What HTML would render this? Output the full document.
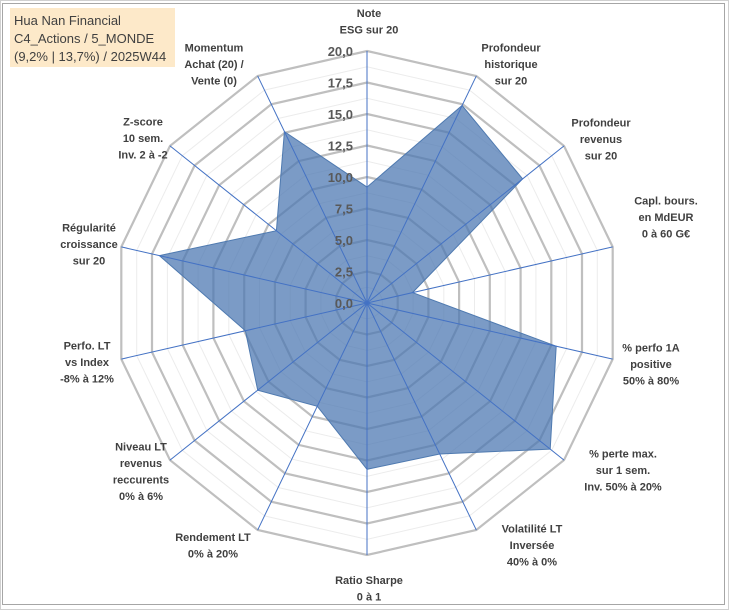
<!DOCTYPE html>
<html><head><meta charset="utf-8"><style>
html,body{margin:0;padding:0;background:#fff;}
svg{display:block;}
.lab{font-family:"Liberation Sans",Arial,sans-serif;font-weight:bold;font-size:11px;fill:#404040;}
.tick{font-family:"Liberation Sans",Arial,sans-serif;font-weight:bold;font-size:13px;fill:#595959;}
.title{font-family:"Liberation Sans",Arial,sans-serif;font-size:13px;fill:#404040;}
</style></head><body>
<svg id="chart" width="729" height="610" viewBox="0 0 729 610">
<rect x="0.5" y="0.5" width="728" height="609" fill="#fff" stroke="#d0d0d0"/>
<rect x="2.5" y="3.5" width="722" height="601" fill="none" stroke="#a6a6a6"/>
<g id="grid"></g>
<g id="series"></g>
<g id="ticks"></g>
<g id="labels"></g>
<g>
<rect x="10" y="8" width="165" height="59" fill="#fde9c9"/>
<text class="title" x="14" y="25">Hua Nan Financial</text>
<text class="title" x="14" y="43">C4_Actions / 5_MONDE</text>
<text class="title" x="14" y="61">(9,2% | 13,7%) / 2025W44</text>
</g>
</svg>
<script>
const categories = [
 ["Note","ESG sur 20"],
 ["Profondeur","historique","sur 20"],
 ["Profondeur","revenus","sur 20"],
 ["Capl. bours.","en MdEUR","0 à 60 G€"],
 ["% perfo 1A","positive","50% à 80%"],
 ["% perte max.","sur 1 sem.","Inv. 50% à 20%"],
 ["Volatilité LT","Inversée","40% à 0%"],
 ["Ratio Sharpe","0 à 1"],
 ["Rendement LT","0% à 20%"],
 ["Niveau LT","revenus","reccurents","0% à 6%"],
 ["Perfo. LT","vs Index","-8% à 12%"],
 ["Régularité","croissance","sur 20"],
 ["Z-score","10 sem.","Inv. 2 à -2"],
 ["Momentum","Achat (20) /","Vente (0)"]
];
const values = [9.2, 17.4, 15.8, 3.7, 15.4, 18.6, 13.3, 13.2, 9.1, 11.1, 9.9, 16.9, 9.2, 15.1];
const tickValues = [0, 2.5, 5, 7.5, 10, 12.5, 15, 17.5, 20];
const tickLabels = ["0,0","2,5","5,0","7,5","10,0","12,5","15,0","17,5","20,0"];
const labelAnchors = [[369,21],[511,64],[601,139],[666,217],[651,364],[623,470],[532,545],[369,588],[213,545],[141,471],[87,362],[89,244],[143,138],[214,64]];

const NS="http://www.w3.org/2000/svg";
const cx=367, cy=303, R=252, maxV=20;
const n=categories.length;
function ang(i){return 2*Math.PI*i/n;}
function px(i,v){return cx+Math.sin(ang(i))*v/maxV*R;}
function py(i,v){return cy-Math.cos(ang(i))*v/maxV*R;}
function mk(tag,attrs,parent){const e=document.createElementNS(NS,tag);for(const k in attrs)e.setAttribute(k,attrs[k]);parent.appendChild(e);return e;}
const grid=document.getElementById('grid');
for(let k=1;k<=16;k++){
  const v=k*1.25;
  const pts=[];for(let i=0;i<n;i++)pts.push(px(i,v).toFixed(1)+","+py(i,v).toFixed(1));
  const major=k%2===0;
  const pg=mk('polygon',{points:pts.join(' '),fill:'none',stroke:major?'#bfbfbf':'#ececec','stroke-width':major?2.2:1},grid);
  
  
}
const series=document.getElementById('series');
const spts=values.map((v,i)=>px(i,v).toFixed(1)+","+py(i,v).toFixed(1)).join(' ');
const poly=mk('polygon',{points:spts,fill:'#4d78b2','fill-opacity':0.74,stroke:'#4f7ab0','stroke-width':1},series);


for(let i=0;i<n;i++){
  const l=mk('line',{x1:cx,y1:cy,x2:px(i,maxV),y2:py(i,maxV),stroke:'#4472c4','stroke-width':1},series);
  
  
}
const ticks=document.getElementById('ticks');
tickValues.forEach((v,j)=>{
  const t=mk('text',{x:cx-14,y:py(0,v)+5,'text-anchor':'end',class:'tick'},ticks);
  t.textContent=tickLabels[j];
  
  
});
const labels=document.getElementById('labels');
categories.forEach((lines,i)=>{
  const [ax,ay]=labelAnchors[i];
  const t=mk('text',{x:ax,y:ay,'text-anchor':'middle',class:'lab'},labels);
  
  
  const h=16.5, top=ay-(lines.length-1)*h/2+4;
  lines.forEach((s,j)=>{const ts=mk('tspan',{x:ax,y:(top+j*h).toFixed(1)},t);ts.textContent=s;});
});
</script>
</body></html>
